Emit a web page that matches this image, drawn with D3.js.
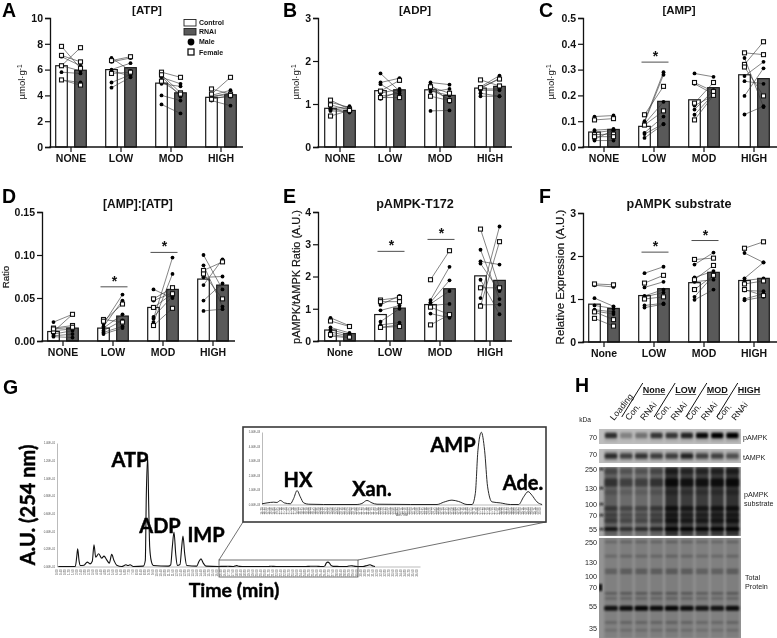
<!DOCTYPE html>
<html>
<head>
<meta charset="utf-8">
<script src="https://cdnjs.cloudflare.com/ajax/libs/d3/7.8.5/d3.min.js"></script>
<style>
  html, body { margin: 0; padding: 0; background: #fff; }
  svg { display: block; filter: blur(0.35px); }
  text { font-family: "Liberation Sans", Arial, sans-serif; fill: #111; }
  .callout { font-family: Lato, "Open Sans", sans-serif; font-weight: 700; stroke: #000; stroke-width: 0.45px; }
</style>
</head>
<body>
<svg id="fig" width="777" height="638"></svg>
<script>
/* ============================
 =            DATA            =
 ============================ */
const doses = ['NONE', 'LOW', 'MOD', 'HIGH'];
const dosesMixed = ['None', 'LOW', 'MOD', 'HIGH'];
const arms = ['Control', 'RNAi'];

// [control, rnai, sex] per paired animal, one list per dose
const atpPairs = [
  [[7.8, 6.1, 'F'], [7.1, 6.6, 'F'], [6.3, 7.7, 'F'], [7.0, 6.3, 'M'], [6.3, 5.9, 'M'], [5.8, 5.7, 'M'], [5.2, 5.0, 'M'], [5.2, 4.8, 'F']],
  [[6.9, 5.9, 'M'], [6.7, 7.0, 'F'], [6.6, 6.9, 'M'], [6.0, 6.5, 'M'], [5.9, 5.5, 'M'], [5.7, 5.8, 'F'], [5.0, 5.6, 'M'], [4.6, 5.4, 'M']],
  [[5.8, 5.4, 'F'], [5.6, 4.2, 'F'], [5.4, 4.9, 'M'], [5.1, 4.1, 'F'], [4.9, 4.7, 'M'], [5.5, 3.9, 'M'], [4.0, 3.6, 'M'], [3.3, 2.6, 'M']],
  [[4.5, 4.1, 'F'], [4.1, 5.4, 'F'], [4.0, 4.4, 'M'], [3.9, 4.2, 'M'], [3.8, 3.9, 'M'], [3.7, 4.0, 'F'], [3.6, 3.2, 'M'], [3.9, 4.1, 'M']],
];
const atpMeans = [[6.3, 5.95], [6.0, 6.15], [4.95, 4.2], [3.85, 4.05]];

const adpPairs = [
  [[1.09, 0.88, 'F'], [0.98, 0.86, 'F'], [0.88, 0.95, 'M'], [0.86, 0.9, 'M'], [0.84, 0.82, 'M'], [0.72, 0.85, 'F'], [0.9, 0.8, 'M'], [1.04, 0.92, 'M']],
  [[1.71, 1.3, 'M'], [1.5, 1.6, 'M'], [1.46, 1.2, 'M'], [1.3, 1.55, 'F'], [1.25, 1.35, 'M'], [1.18, 1.25, 'M'], [1.12, 1.3, 'M'], [1.15, 1.15, 'F']],
  [[1.5, 1.45, 'M'], [1.45, 1.05, 'M'], [1.4, 1.25, 'F'], [1.35, 1.1, 'M'], [1.28, 1.35, 'M'], [1.18, 1.08, 'F'], [0.84, 0.85, 'M'], [1.3, 1.2, 'M']],
  [[1.56, 1.42, 'F'], [1.4, 1.66, 'M'], [1.38, 1.58, 'F'], [1.35, 1.35, 'M'], [1.32, 1.32, 'M'], [1.25, 1.18, 'M'], [1.18, 1.18, 'M'], [1.36, 1.6, 'M']],
];
const adpMeans = [[0.9, 0.85], [1.31, 1.33], [1.33, 1.2], [1.37, 1.41]];

const ampPairs = [
  [[0.118, 0.122, 'M'], [0.105, 0.11, 'F'], [0.065, 0.07, 'M'], [0.055, 0.065, 'M'], [0.048, 0.05, 'F'], [0.04, 0.04, 'F'], [0.03, 0.065, 'M'], [0.025, 0.025, 'M']],
  [[0.125, 0.235, 'F'], [0.1, 0.29, 'M'], [0.095, 0.28, 'M'], [0.09, 0.175, 'M'], [0.085, 0.14, 'F'], [0.055, 0.118, 'M'], [0.05, 0.09, 'M'], [0.035, 0.088, 'M']],
  [[0.285, 0.272, 'M'], [0.25, 0.215, 'F'], [0.245, 0.205, 'M'], [0.17, 0.25, 'F'], [0.16, 0.2, 'M'], [0.145, 0.22, 'M'], [0.125, 0.205, 'M'], [0.105, 0.2, 'F']],
  [[0.365, 0.358, 'F'], [0.345, 0.155, 'M'], [0.32, 0.408, 'F'], [0.31, 0.198, 'F'], [0.275, 0.33, 'M'], [0.255, 0.245, 'M'], [0.198, 0.305, 'M'], [0.126, 0.158, 'M']],
];
const ampMeans = [[0.058, 0.068], [0.08, 0.177], [0.183, 0.23], [0.28, 0.265]];
const ampSig = [['LOW', 0.329]];

const ratioPairs = [
  [[0.022, 0.031, 'M'], [0.015, 0.018, 'F'], [0.012, 0.014, 'M'], [0.011, 0.031, 'F'], [0.008, 0.012, 'M'], [0.006, 0.008, 'M'], [0.005, 0.004, 'M'], [0.014, 0.016, 'F']],
  [[0.025, 0.022, 'F'], [0.023, 0.043, 'F'], [0.02, 0.054, 'M'], [0.017, 0.047, 'M'], [0.015, 0.031, 'M'], [0.012, 0.024, 'M'], [0.01, 0.017, 'M'], [0.008, 0.015, 'M']],
  [[0.06, 0.05, 'M'], [0.049, 0.062, 'F'], [0.047, 0.056, 'M'], [0.039, 0.055, 'F'], [0.026, 0.097, 'M'], [0.022, 0.078, 'M'], [0.018, 0.038, 'F'], [0.028, 0.052, 'M']],
  [[0.1, 0.06, 'M'], [0.088, 0.04, 'M'], [0.082, 0.092, 'F'], [0.078, 0.049, 'F'], [0.074, 0.075, 'M'], [0.065, 0.095, 'M'], [0.047, 0.067, 'M'], [0.035, 0.037, 'M']],
];
const ratioMeans = [[0.011, 0.015], [0.015, 0.029], [0.039, 0.06], [0.072, 0.065]];
const ratioSig = [['LOW', 0.063], ['MOD', 0.103]];

const t172Pairs = [
  [[0.72, 0.47, 'M'], [0.62, 0.45, 'F'], [0.42, 0.25, 'M'], [0.35, 0.2, 'M'], [0.28, 0.15, 'M'], [0.2, 0.12, 'F'], [0.15, 0.1, 'M']],
  [[1.27, 1.35, 'F'], [1.22, 1.22, 'F'], [1.12, 1.4, 'M'], [0.95, 1.1, 'M'], [0.6, 1.0, 'M'], [0.5, 0.57, 'M'], [0.42, 0.5, 'M'], [0.42, 0.45, 'F']],
  [[1.9, 2.8, 'F'], [1.27, 2.3, 'M'], [1.2, 1.88, 'M'], [1.15, 1.55, 'M'], [1.1, 1.15, 'M'], [1.05, 0.82, 'F'], [0.85, 0.72, 'M'], [0.5, 0.82, 'F']],
  [[3.47, 1.65, 'F'], [2.83, 1.3, 'M'], [2.47, 2.37, 'M'], [2.4, 1.55, 'M'], [1.9, 0.83, 'M'], [1.65, 1.65, 'F'], [1.33, 3.55, 'M'], [1.12, 1.13, 'M'], [1.08, 3.08, 'F']],
];
const t172Means = [[0.34, 0.23], [0.82, 1.02], [1.13, 1.62], [2.02, 1.88]];
const t172Sig = [['LOW', 2.78], ['MOD', 3.15]];

const substratePairs = [
  [[1.35, 1.33, 'F'], [1.32, 1.28, 'M'], [1.02, 0.83, 'M'], [0.85, 0.78, 'M'], [0.75, 0.7, 'M'], [0.72, 0.65, 'M'], [0.7, 0.52, 'F'], [0.55, 0.37, 'F']],
  [[1.6, 1.75, 'M'], [1.37, 1.55, 'F'], [1.27, 1.4, 'M'], [1.07, 1.22, 'M'], [1.05, 1.15, 'M'], [1.0, 1.05, 'F'], [0.85, 0.9, 'M'], [0.8, 0.88, 'M']],
  [[1.92, 1.95, 'F'], [1.8, 2.08, 'M'], [1.5, 1.65, 'M'], [1.45, 1.78, 'F'], [1.4, 1.45, 'M'], [1.22, 1.55, 'F'], [1.05, 1.55, 'M'], [0.98, 1.22, 'M']],
  [[2.18, 2.33, 'F'], [2.07, 1.85, 'M'], [1.48, 1.85, 'M'], [1.43, 1.48, 'M'], [1.35, 1.42, 'F'], [1.22, 1.08, 'F'], [1.2, 1.18, 'M'], [1.0, 1.12, 'M'], [0.97, 1.05, 'M']],
];
const substrateMeans = [[0.88, 0.78], [1.08, 1.24], [1.38, 1.62], [1.43, 1.48]];
const substrateSig = [['LOW', 2.09], ['MOD', 2.36]];

// chromatogram, [minutes, A.U. in E-01 units]
const traceMain = [[0.13, 0], [1.83, 0], [1.97, 0.106], [2.07, 0.2], [2.2, 0.07], [2.33, 0.011], [2.7, 0.015], [3.03, 0.05], [3.3, 0.03], [3.53, 0.06], [3.7, 0.247], [3.87, 0.106], [4.17, 0.145], [4.47, 0.095], [4.7, 0.118], [4.97, 0.076], [5.23, 0.038], [5.47, 0.137], [5.7, 0.068], [5.97, 0.015], [6.47, 0], [6.9, 0.019], [7.1, 0.012], [7.3, 0.019], [7.63, 0], [8.63, 0.004], [8.83, 0.068], [8.93, 0.8], [9.07, 1.24], [9.17, 0.7], [9.27, 0.22], [9.43, 0.06], [9.63, 0.012], [11.13, 0.004], [11.37, 0.019], [11.53, 0.22], [11.7, 0.39], [11.87, 0.144], [12.03, 0.012], [12.3, 0.023], [12.47, 0.22], [12.6, 0.346], [12.77, 0.144], [12.97, 0.012], [13.97, 0.004], [14.17, 0.05], [14.4, 0.087], [14.63, 0.038], [14.9, 0.004], [16.2, 0]];
// inset, [minutes, A.U. in E-03 units]
const traceInset = [[16.2, 0.05], [16.45, 0.11], [16.78, 0.16], [16.94, 0.14], [17.11, 0.28], [17.31, 0.11], [17.61, 0.05], [17.77, 0.41], [17.94, 0.96], [18.1, 0.53], [18.27, 0.11], [18.52, 0.02], [19.26, 0], [20.92, 0], [21.16, 0.07], [21.41, 0.28], [21.66, 0.11], [21.91, 0.02], [23.56, 0], [24.89, 0], [25.22, 0.16], [25.63, 0.3], [25.96, 0.21], [26.38, 0], [26.63, 0], [26.79, 0.76], [26.92, 3.74], [27.09, 4.98], [27.25, 3.74], [27.4, 1.22], [27.62, 0.18], [28.03, 0.11], [28.53, 0], [28.94, 0], [29.19, 0.53], [29.41, 0.89], [29.6, 0.64], [29.85, 0.18], [30.1, 0]];
const traceTail = [[30.6, 0], [31.0, 0.012], [31.3, 0.02], [31.6, 0.005], [31.8, 0]];
const chromYTicks = [0, 0.2, 0.4, 0.6, 0.8, 1.0, 1.2, 1.4];
const insetYTicks = [0, 1, 2, 3, 4, 5];
const chromCallouts = [['ATP', 130, 467], ['ADP', 160, 533], ['IMP', 206, 542]];
const insetCallouts = [['HX', 298, 487], ['Xan.', 372, 496], ['AMP', 453, 452], ['Ade.', 523, 490]];

// western blot
const laneNames = ['Loading', 'Con.', 'RNAi', 'Con.', 'RNAi', 'Con.', 'RNAi', 'Con.', 'RNAi'];
const blotHeaders = ['None', 'LOW', 'MOD', 'HIGH'];
const pampkBand = [0.72, 0.28, 0.36, 0.68, 0.68, 0.78, 0.95, 1, 1];
const tampkBand = [0.7, 0.58, 0.66, 0.6, 0.6, 0.76, 0.58, 0.58, 0.5];
const substrateLoad = [0.6, 0.5, 0.5, 0.6, 1, 0.9, 0.9, 0.95, 1];
const substrateMW = [[235, 0.45], [165, 0.8], [122, 0.25], [88, 0.7], [70, 0.55], [64, 0.65]];
const substrate55 = [0.85, 0.6, 0.65, 0.7, 1, 1, 1, 1, 1];
const totalLoad = [0.7, 0.75, 0.75, 0.75, 0.8, 0.75, 0.7, 0.7, 0.75];
const totalMW = [[250, 0.3], [165, 0.28], [113, 0.4], [107, 0.4], [65, 0.4], [61, 0.28], [40, 0.32], [33, 0.22]];
const total53 = [0.85, 0.9, 0.95, 0.9, 0.95, 0.9, 0.85, 0.85, 0.9];
const substrateMarks = [250, 130, 100, 70, 55];
const totalMarks = [250, 130, 100, 70, 55, 35];

/* ============================
 =           LAYOUT           =
 ============================ */
const svg = d3.select('#fig');
const defs = svg.append('defs');
const blur = (id, s) => defs.append('filter').attr('id', id)
  .attr('x', '-20%').attr('y', '-80%').attr('width', '140%').attr('height', '260%')
  .append('feGaussianBlur').attr('stdDeviation', s);
blur('soft', 1.3);

const barPanels = [
  { letter: 'A', title: '[ATP]', titleSize: 11.5, titleX: 147, titleY: 14, letterX: 2, letterY: 17, x0: 46, axisX: 50, endX: 243, top: 18, base: 147, max: 10, ticks: [0, 2, 4, 6, 8, 10], fmt: d3.format('d'), names: doses, pairs: atpPairs, means: atpMeans, sig: [], ylabel: 'umol', ylabelX: 25, ylabelY: 82 },
  { letter: 'B', title: '[ADP]', titleSize: 11.5, titleX: 415, titleY: 14, letterX: 283, letterY: 17, x0: 315, axisX: 318, endX: 512, top: 18, base: 147, max: 3, ticks: [0, 1, 2, 3], fmt: d3.format('d'), names: doses, pairs: adpPairs, means: adpMeans, sig: [], ylabel: 'umol', ylabelX: 299, ylabelY: 82 },
  { letter: 'C', title: '[AMP]', titleSize: 11.5, titleX: 679, titleY: 14, letterX: 539, letterY: 17, x0: 579, axisX: 583, endX: 777, top: 18, base: 147, max: 0.5, ticks: [0, 0.1, 0.2, 0.3, 0.4, 0.5], fmt: d3.format('.1f'), names: doses, pairs: ampPairs, means: ampMeans, sig: ampSig, ylabel: 'umol', ylabelX: 554, ylabelY: 82 },
  { letter: 'D', title: '[AMP]:[ATP]', titleSize: 12, titleX: 138, titleY: 208, letterX: 2, letterY: 203, x0: 38, axisX: 42, endX: 235, top: 212, base: 341, max: 0.15, ticks: [0, 0.05, 0.1, 0.15], fmt: d3.format('.2f'), names: doses, pairs: ratioPairs, means: ratioMeans, sig: ratioSig, ylabel: 'Ratio', ylabelSize: 9.6, ylabelX: 9, ylabelY: 277 },
  { letter: 'E', title: 'pAMPK-T172', titleSize: 12.6, titleX: 415, titleY: 208, letterX: 283, letterY: 203, x0: 315, axisX: 318, endX: 512, top: 212, base: 341, max: 4, ticks: [0, 1, 2, 3, 4], fmt: d3.format('d'), names: dosesMixed, pairs: t172Pairs, means: t172Means, sig: t172Sig, ylabel: 'pAMPK/tAMPK Ratio (A.U.)', ylabelSize: 10.9, ylabelX: 300, ylabelY: 277 },
  { letter: 'F', title: 'pAMPK substrate', titleSize: 12.6, titleX: 679, titleY: 208, letterX: 539, letterY: 203, x0: 579, axisX: 583, endX: 777, top: 213, base: 342, max: 3, ticks: [0, 1, 2, 3], fmt: d3.format('d'), names: dosesMixed, pairs: substratePairs, means: substrateMeans, sig: substrateSig, ylabel: 'Relative Expression (A.U.)', ylabelSize: 11.5, ylabelX: 564, ylabelY: 277 },
];

const letter = (s, x, y) => svg.append('text').attr('x', x).attr('y', y).text(s)
  .attr('font-size', 19.5).attr('font-weight', 700).style('fill', '#000');

const drawBarPanel = (p) => {
  const g = svg.append('g');
  const x = d3.scaleBand().domain(p.names).range([p.x0, p.x0 + 200]);
  const arm = d3.scalePoint().domain(arms).range([-9.5, 9.5]);
  const y = d3.scaleLinear().domain([0, p.max]).range([p.base, p.top]);
  const cx = (i, a) => x(p.names[i]) + x.bandwidth() / 2 + arm(a);

  letter(p.letter, p.letterX, p.letterY);
  g.append('text').attr('x', p.titleX).attr('y', p.titleY).text(p.title)
    .attr('text-anchor', 'middle').attr('font-size', p.titleSize).attr('font-weight', 700);

  // bars
  p.means.forEach((m, i) => {
    g.selectAll(null).data(arms).enter().append('rect')
      .attr('x', (a) => cx(i, a) - 5.8)
      .attr('width', 11.6)
      .attr('y', (a, j) => y(m[j]))
      .attr('height', (a, j) => p.base - y(m[j]))
      .attr('fill', (a) => (a === 'Control' ? '#fff' : '#595959'))
      .attr('stroke', '#1a1a1a')
      .attr('stroke-width', 1.2);
  });

  // paired lines, then markers on top
  p.pairs.forEach((list, i) => {
    g.selectAll(null).data(list).enter().append('line')
      .attr('x1', cx(i, 'Control')).attr('x2', cx(i, 'RNAi'))
      .attr('y1', (d) => y(d[0])).attr('y2', (d) => y(d[1]))
      .attr('stroke', '#333').attr('stroke-width', 0.6);
    arms.forEach((a, j) => {
      const males = list.filter((d) => d[2] === 'M');
      const females = list.filter((d) => d[2] === 'F');
      g.selectAll(null).data(males).enter().append('circle')
        .attr('cx', cx(i, a)).attr('cy', (d) => y(d[j])).attr('r', 1.9).attr('fill', '#000');
      g.selectAll(null).data(females).enter().append('rect')
        .attr('x', cx(i, a) - 2).attr('y', (d) => y(d[j]) - 2)
        .attr('width', 4).attr('height', 4)
        .attr('fill', '#fff').attr('stroke', '#111').attr('stroke-width', 1.1);
    });
  });

  // axes
  const yAxis = g.append('g').attr('transform', 'translate(' + p.axisX + ',0)')
    .call(d3.axisLeft(y).tickValues(p.ticks).tickFormat(p.fmt).tickSize(5).tickPadding(2));
  const xAxis = g.append('g').attr('transform', 'translate(0,' + p.base + ')')
    .call(d3.axisBottom(x).tickSize(5).tickPadding(3));
  xAxis.select('.domain').remove();
  g.append('line').attr('x1', p.axisX - 0.6).attr('x2', p.endX)
    .attr('y1', p.base).attr('y2', p.base).attr('stroke', '#111').attr('stroke-width', 1.3);
  [yAxis, xAxis].forEach((a) => {
    a.selectAll('line').attr('stroke', '#111').attr('stroke-width', 1.2);
    a.selectAll('.domain').attr('stroke', '#111').attr('stroke-width', 1.3);
    a.selectAll('text').attr('font-size', 10.5).attr('font-weight', 700)
      .style('font-family', '"Liberation Sans", Arial, sans-serif').style('fill', '#111');
  });

  // significance brackets
  p.sig.forEach(([name, v]) => {
    const i = p.names.indexOf(name);
    g.append('line').attr('x1', cx(i, 'Control') - 3).attr('x2', cx(i, 'RNAi') + 5)
      .attr('y1', y(v)).attr('y2', y(v)).attr('stroke', '#222').attr('stroke-width', 0.8);
    g.append('text').attr('x', cx(i, 'Control') + 11).attr('y', y(v) - 1)
      .attr('text-anchor', 'middle').attr('font-size', 14).attr('font-weight', 700).text('*');
  });

  // y label
  const yl = g.append('text').attr('text-anchor', 'middle')
    .attr('transform', 'translate(' + p.ylabelX + ',' + p.ylabelY + ') rotate(-90)');
  if (p.ylabel === 'umol') {
    yl.attr('font-size', 9.5);
    yl.append('tspan').text('\u00b5mol\u00b7g');
    yl.append('tspan').text('-1').attr('dy', -3.5).attr('font-size', 6.5);
  }
  else {
    yl.text(p.ylabel).attr('font-size', p.ylabelSize)
      .style('stroke', '#111').style('stroke-width', 0.2);
  }
};
barPanels.forEach(drawBarPanel);

// legend in panel A
const legend = svg.append('g').attr('font-size', 7).attr('font-weight', 700);
legend.selectAll('rect.key').data(arms).enter().append('rect').attr('class', 'key')
  .attr('x', 184).attr('y', (d, i) => 19.5 + i * 9).attr('width', 12).attr('height', 6.5)
  .attr('fill', (d) => (d === 'Control' ? '#fff' : '#595959')).attr('stroke', '#222').attr('stroke-width', 0.9);
legend.append('circle').attr('cx', 191).attr('cy', 42).attr('r', 3.4).attr('fill', '#000');
legend.append('rect').attr('x', 188).attr('y', 49).attr('width', 6).attr('height', 6)
  .attr('fill', '#fff').attr('stroke', '#111').attr('stroke-width', 1.3);
['Control', 'RNAi', 'Male', 'Female'].forEach((t, i) => {
  legend.append('text').attr('x', 199).attr('y', [25, 34, 44.3, 55][i]).text(t);
});

/* ============================
 =        CHROMATOGRAM        =
 ============================ */
letter('G', 3, 394);
const gMain = svg.append('g');
const tMain = d3.scaleLinear().domain([0, 36.3]).range([57, 420]);
const vMain = d3.scaleLinear().domain([0, 1.4]).range([566.5, 443]);
const toMain = (d) => [d[0], d[1] * 0.01];
const mainSeries = traceMain.concat(traceInset.map(toMain), traceTail);
const traceLine = (tx, vy) => d3.line().x((d) => tx(d[0])).y((d) => vy(d[1])).curve(d3.curveMonotoneX);

const tinyAxis = (g, axis, rot) => {
  g.call(axis);
  g.selectAll('line').attr('stroke', '#ccc').attr('stroke-width', 0.3);
  g.selectAll('.domain').attr('stroke', '#aaa').attr('stroke-width', 0.8);
  g.selectAll('text').attr('font-size', 2.8).style('fill', '#555')
    .style('font-family', '"Liberation Sans", Arial, sans-serif');
  if (rot) {
    g.selectAll('text').attr('transform', 'rotate(-90)').attr('text-anchor', 'end')
      .attr('x', -3).attr('y', -0.8).attr('dy', '0.32em');
  }
};

tinyAxis(gMain.append('g').attr('transform', 'translate(57,0)'),
  d3.axisLeft(vMain).tickValues(chromYTicks).tickSize(0).tickPadding(2)
    .tickFormat((d) => d3.format('.2f')(d) + 'E-01'), false);
tinyAxis(gMain.append('g').attr('transform', 'translate(0,566.5)'),
  d3.axisBottom(tMain).tickValues(d3.range(0, 36.3, 0.4)).tickSize(0)
    .tickFormat(d3.format('.2f')), true);
gMain.append('path').datum(mainSeries).attr('d', traceLine(tMain, vMain))
  .attr('fill', 'none').attr('stroke', '#111').attr('stroke-width', 1.1);

const callout = (g, [t, x, y], size) => g.append('text').attr('class', 'callout')
  .attr('x', x).attr('y', y).attr('text-anchor', 'middle').attr('font-size', size).text(t)
  .style('fill', '#000');
chromCallouts.forEach((c) => callout(gMain, c, 20));

gMain.append('text').attr('class', 'callout').attr('text-anchor', 'middle').attr('font-size', 20)
  .attr('transform', 'translate(35,505) rotate(-90)').style('fill', '#000').text('A.U. (254 nm)');
gMain.append('text').attr('class', 'callout').attr('text-anchor', 'middle').attr('font-size', 19.5)
  .attr('x', 234).attr('y', 597).style('fill', '#000').text('Time (min)');

// zoom box + connector lines
const zoomBoxX = [16.2, 30.1];
const zoomBoxY = [560, 577];
const insetBox = { x: 243, y: 427, w: 303, h: 95 };
gMain.append('rect').attr('x', tMain(zoomBoxX[0])).attr('y', zoomBoxY[0])
  .attr('width', tMain(zoomBoxX[1]) - tMain(zoomBoxX[0])).attr('height', zoomBoxY[1] - zoomBoxY[0])
  .attr('fill', 'none').attr('stroke', '#333').attr('stroke-width', 0.7);
gMain.append('line').attr('x1', tMain(zoomBoxX[0])).attr('y1', zoomBoxY[0])
  .attr('x2', insetBox.x).attr('y2', insetBox.y + insetBox.h).attr('stroke', '#333').attr('stroke-width', 0.7);
gMain.append('line').attr('x1', tMain(zoomBoxX[1])).attr('y1', zoomBoxY[0])
  .attr('x2', insetBox.x + insetBox.w).attr('y2', insetBox.y + insetBox.h).attr('stroke', '#333').attr('stroke-width', 0.7);

const gInset = svg.append('g');
gInset.append('rect').attr('x', insetBox.x).attr('y', insetBox.y).attr('width', insetBox.w).attr('height', insetBox.h)
  .attr('fill', '#fff').attr('stroke', '#3a3a3a').attr('stroke-width', 1.6);
const tInset = d3.scaleLinear().domain(zoomBoxX).range([262, 542]);
const vInset = d3.scaleLinear().domain([0, 5]).range([504.5, 432]);
tinyAxis(gInset.append('g').attr('transform', 'translate(262,0)'),
  d3.axisLeft(vInset).tickValues(insetYTicks).tickSize(0).tickPadding(2)
    .tickFormat((d) => d3.format('.2f')(d) + 'E-03'), false);
tinyAxis(gInset.append('g').attr('transform', 'translate(0,504.5)'),
  d3.axisBottom(tInset).tickValues(d3.range(16.2, 30.1, 0.12)).tickSize(0)
    .tickFormat(d3.format('.2f')), true);
gInset.append('text').attr('x', 402).attr('y', 515.5).attr('text-anchor', 'middle')
  .attr('font-size', 3).style('fill', '#555').text('Axis Title');
gInset.append('path').datum(traceInset).attr('d', traceLine(tInset, vInset))
  .attr('fill', 'none').attr('stroke', '#111').attr('stroke-width', 0.9);
insetCallouts.forEach((c) => callout(gInset, c, 20));

/* ============================
 =         WESTERN BLOT       =
 ============================ */
letter('H', 575, 392);
const gBlot = svg.append('g');
const lane = d3.scaleBand().domain(d3.range(laneNames.length)).range([603.4, 740]);
const laneW = lane.bandwidth();

const blotPanels = [
  { id: 'bp', y0: 429, y1: 444, bg: '#bdbdbd' },
  { id: 'bt', y0: 449, y1: 463, bg: '#bcbcbc' },
  { id: 'bs', y0: 467, y1: 536, bg: '#a6a6a6' },
  { id: 'bc', y0: 538, y1: 638, bg: '#939393' },
];
const panelGroups = {};
blotPanels.forEach((b) => {
  defs.append('clipPath').attr('id', b.id).append('rect')
    .attr('x', 599).attr('y', b.y0).attr('width', 142).attr('height', b.y1 - b.y0);
  panelGroups[b.id] = gBlot.append('g').attr('clip-path', 'url(#' + b.id + ')');
  panelGroups[b.id].append('rect').attr('x', 599).attr('y', b.y0).attr('width', 142).attr('height', b.y1 - b.y0).attr('fill', b.bg);
});

const mwSub = d3.scaleLinear().domain([250, 130, 100, 70, 55]).range([469, 488, 504, 515, 529]);
const mwTotal = d3.scaleLinear().domain([250, 130, 100, 70, 55, 35]).range([542, 562, 576, 587, 606, 628]);

// one soft band per lane
const bands = (g, vals, yc, h, w) => g.selectAll(null).data(vals).enter().append('rect')
  .attr('x', (d, i) => lane(i) + (laneW - w) / 2).attr('width', w)
  .attr('y', yc - h / 2).attr('height', h)
  .attr('rx', 1.5).attr('fill', '#000').attr('opacity', (d) => d)
  .attr('filter', 'url(#soft)');
// lane smear
const smear = (g, vals, y0, y1, op) => g.selectAll(null).data(vals).enter().append('rect')
  .attr('x', (d, i) => lane(i) + 1).attr('width', laneW - 2)
  .attr('y', y0).attr('height', y1 - y0).attr('fill', '#000').attr('opacity', (d) => d * op)
  .attr('filter', 'url(#soft)');

smear(panelGroups.bp, pampkBand, 431, 442, 0.12);
bands(panelGroups.bp, pampkBand, 435.5, 5.5, 12);
smear(panelGroups.bt, tampkBand, 451, 461, 0.3);
bands(panelGroups.bt, tampkBand, 456, 5, 12.5);

smear(panelGroups.bs, substrateLoad, 467, 536, 0.7);
substrateMW.forEach(([mw, s]) => {
  bands(panelGroups.bs, substrateLoad.map((l) => Math.min(1, l * s)), mwSub(mw), mw === 165 ? 8 : 5, 13);
});
bands(panelGroups.bs, substrate55, mwSub(55), 3.6, 13.5);

smear(panelGroups.bc, totalLoad, 538, 638, 0.18);
totalMW.forEach(([mw, s]) => {
  bands(panelGroups.bc, totalLoad.map((l) => l * s), mwTotal(mw), 2.6, 12.5);
});
bands(panelGroups.bc, total53, mwTotal(53), 5, 13.5);

// ladder marks along the left edge
panelGroups.bs.selectAll(null).data(substrateMarks).enter().append('rect')
  .attr('x', 599.5).attr('y', (d) => mwSub(d) - 1).attr('width', 4).attr('height', 2.2)
  .attr('fill', '#222').attr('filter', 'url(#soft)');
panelGroups.bc.selectAll(null).data(totalMarks.slice(3, 4)).enter().append('rect')
  .attr('x', 599).attr('y', (d) => mwTotal(d) - 3).attr('width', 3).attr('height', 7)
  .attr('fill', '#000').attr('filter', 'url(#soft)');

// MW + side labels
const blotText = (t, x, y, anchor, size) => gBlot.append('text').attr('x', x).attr('y', y).text(t)
  .attr('text-anchor', anchor || 'start').attr('font-size', size || 7.2).style('fill', '#222');
blotText('kDa', 585, 422, 'middle', 6.6);
blotText('70', 597, 439.5, 'end');
blotText('70', 597, 457, 'end');
substrateMarks.forEach((m) => blotText(m, 597, mwSub(m) + 2.5, 'end'));
totalMarks.forEach((m) => blotText(m, 597, mwTotal(m) + 2.5, 'end'));
blotText('pAMPK', 743, 439.5);
blotText('tAMPK', 743, 459.5);
blotText('pAMPK', 744, 497);
blotText('substrate', 744, 506);
blotText('Total', 745, 580);
blotText('Protein', 745, 589);

// lane heads, nudged right so the rotated glyphs clear the slashes
gBlot.selectAll(null).data(laneNames).enter().append('text')
  .attr('transform', (d, i) => 'translate(' + (lane(i) + laneW / 2 + 3) + ',421) rotate(-51)')
  .attr('font-size', 8.8).style('fill', '#222').text((d) => d);
const headerX = d3.scalePoint().domain(blotHeaders).range([654, 749]);
blotHeaders.forEach((h) => {
  const t = gBlot.append('text').attr('x', headerX(h)).attr('y', 393).attr('text-anchor', 'middle')
    .attr('font-size', 9).attr('font-weight', 700).text(h);
  const w = t.node().getComputedTextLength();
  gBlot.append('line').attr('x1', headerX(h) - w / 2).attr('x2', headerX(h) + w / 2)
    .attr('y1', 394.5).attr('y2', 394.5).attr('stroke', '#111').attr('stroke-width', 0.7);
  const sx = headerX(h) - w / 2;
  gBlot.append('line').attr('x1', sx).attr('y1', 383).attr('x2', sx - 21).attr('y2', 417)
    .attr('stroke', '#111').attr('stroke-width', 1);
});
</script>
</body>
</html>
